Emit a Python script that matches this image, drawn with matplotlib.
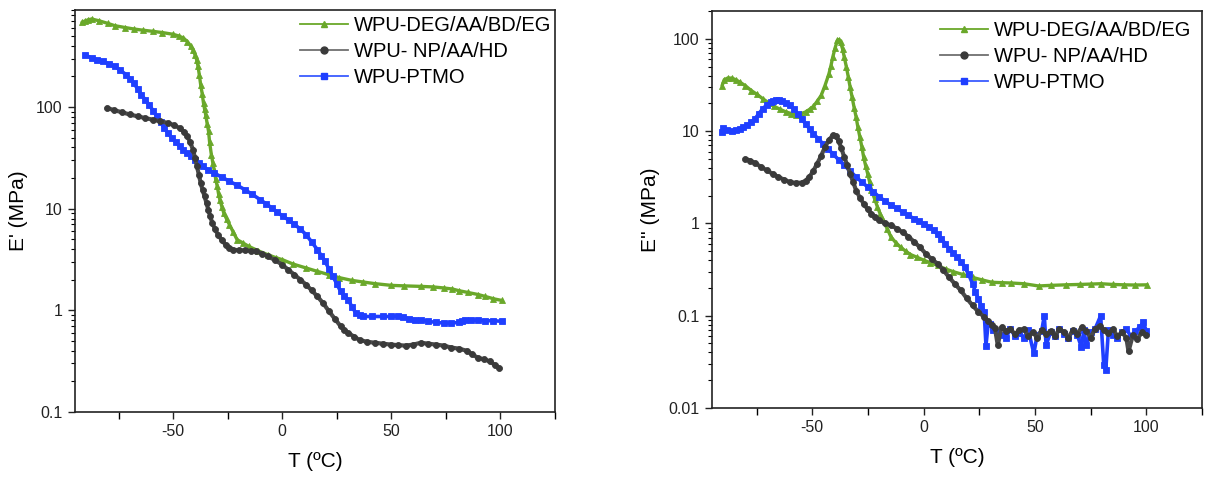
import matplotlib
matplotlib.use("Agg")
import matplotlib.pyplot as plt
from matplotlib.lines import Line2D
from matplotlib.ticker import FixedLocator, FuncFormatter, LogLocator, NullFormatter

plt.rcParams['font.family'] = ['Liberation Sans', 'DejaVu Sans']
plt.rcParams['axes.unicode_minus'] = False

labels = ["WPU-DEG/AA/BD/EG", "WPU- NP/AA/HD", "WPU-PTMO"]
colors = ["#6aa82a", "#3a3a3a", "#1f3fff"]
line_colors = ["#6aa82a", "#4a4a4a", "#1f3fff"]
legend_line_colors = ["#6aa82a", "#707070", "#3a5cff"]
markers = ["^", "o", "s"]

# ---- Storage modulus E' (left panel) ----
T_deg_E1 = [-91.8, -90.5, -89, -87.4, -84, -80, -76.8, -72, -68, -64, -59.3, -55, -50, -47.5, -45.3,
            -43.5, -41.8, -40.8, -40, -39.2, -38.6, -38, -37.4, -36.7, -36.1, -35.6, -35.1, -34.4, -33.8,
            -33.3, -32.5, -31.8, -31.2, -30.5, -29.8, -29.2, -28.6, -27.7, -26.8, -25.5, -24.2, -22.5,
            -20.7, -18, -15.4, -11, -6.7, -3, 0, 5, 10.9, 16, 21.4, 26, 31.9, 37, 42.5, 50, 56, 63.5,
            69, 74, 78, 81, 85, 89.8, 93, 96.8, 100.7]
E1_deg = [681, 700, 720, 734, 705, 665, 631, 605, 585, 570, 555, 540, 519, 500, 477,
          440, 395, 360, 327, 290, 251, 205, 166, 135, 109, 95, 84, 68, 58,
          45, 34, 28, 24, 19.5, 16.6, 14, 12.2, 10.5, 9.05, 7.9, 6.96, 5.9,
          4.95, 4.6, 4.26, 3.85, 3.53, 3.3, 3.15, 2.85, 2.61, 2.42, 2.24, 2.1, 1.97, 1.9, 1.83,
          1.76, 1.74, 1.72, 1.70, 1.66, 1.62, 1.56, 1.50, 1.43, 1.37, 1.30, 1.25]

T_np_E1 = [-80.4, -77, -73.3, -70, -66.3, -63, -59.3, -56, -52.3, -49.5, -47, -45, -43.5, -42.2, -40.9,
           -40, -39.1, -38.2, -37.4, -36.5, -35.6, -34.7, -33.9, -33, -32.1, -30.8, -29.5, -27.7, -26,
           -24.2, -22.5, -20, -17.2, -14.5, -11.9, -9.3, -6.7, -3.3, 0, 2.8, 5.6, 8.3, 10.9, 13.5, 16.1,
           18.8, 21.4, 24, 26.7, 28.5, 30.2, 33, 35.4, 39, 42.5, 46, 50, 53, 56.5, 60, 63.5, 67,
           70.5, 74, 77.5, 81, 84.6, 87, 89.8, 92.5, 95.1, 97.5, 99.5]
E1_np = [98, 93, 88.6, 84.5, 81, 78, 75, 72.5, 69.6, 66, 62, 57, 51.4, 45, 38,
         31.5, 26, 21.5, 17.9, 15.2, 13.2, 11.3, 9.76, 8.4, 7.23, 6.3, 5.55, 4.9, 4.42,
         4.15, 3.95, 3.9, 3.89, 3.85, 3.80, 3.62, 3.40, 3.12, 2.81, 2.5, 2.24, 2.0, 1.79, 1.57, 1.37,
         1.17, 0.98, 0.83, 0.70, 0.64, 0.60, 0.55, 0.51, 0.49, 0.48, 0.47, 0.46, 0.455, 0.45, 0.46, 0.48, 0.47,
         0.46, 0.45, 0.43, 0.42, 0.40, 0.37, 0.34, 0.33, 0.315, 0.29, 0.27]

T_pt_E1 = [-90.5, -87.4, -84.8, -82.1, -79.5, -76.8, -74.2, -71.6, -69.8, -68.1, -66.3, -64.6, -62.8, -61,
           -59.2, -57.5, -55.8, -54, -52.3, -50.5, -48.8, -47, -45.3, -43.5, -41.8, -40, -38.3, -36.5,
           -34, -31.2, -27.7, -24.2, -20.7, -17.2, -13.7, -10.2, -7.5, -4.9, -2.2, 0.4, 3, 5.6, 8.3,
           10.9, 13.5, 16.1, 17.9, 19.6, 21.4, 23.2, 25, 26.7, 28.5, 30.2, 31.9, 33.7, 35.5, 37.2,
           41, 46, 50, 53, 55.5, 58.2, 61, 63.5, 67, 70.5, 74, 77.5, 81, 82.5, 83.7, 86.5, 89.8,
           93, 96.8, 100.7]
E1_pt = [327, 303, 292, 281, 266, 251, 230, 208, 190, 172, 151, 132, 118, 105,
         92, 81, 71, 62, 55, 49.5, 45, 41, 38, 35.3, 32.6, 30.3, 28, 26,
         24, 22.4, 20.4, 18.6, 17, 15.4, 13.8, 12.3, 11.2, 10.2, 9.2, 8.4, 7.7, 7.0, 6.3,
         5.55, 4.7, 3.95, 3.45, 3.03, 2.55, 2.16, 1.82, 1.54, 1.38, 1.27, 1.09, 0.94, 0.89, 0.87,
         0.87, 0.87, 0.87, 0.88, 0.86, 0.82, 0.81, 0.80, 0.78, 0.76, 0.75, 0.75, 0.76, 0.78, 0.81, 0.80, 0.80,
         0.79, 0.79, 0.78]

# ---- Loss modulus E'' (right panel) ----
T_deg_E2 = [-90.5, -89.5, -88, -86.1, -84.3, -82.6, -80, -77.4, -74.8, -72.2, -69.6, -67, -64.4, -61.7,
            -59.5, -57.4, -55.2, -53, -51.2, -49.5, -47.8, -46, -44.3, -42.5, -41.6, -40.8, -39.7,
            -38.7, -38, -37.3, -36.4, -35.6, -34.7, -33.8, -33, -32.1, -31.2, -30.3, -29.5, -28.6,
            -27.7, -26.9, -26, -25.1, -24.2, -23.4, -22, -20.7, -19.4, -18.1, -16.4, -14.6, -12.5,
            -10.3, -8, -5.9, -3, 0, 3, 6.3, 10, 13.3, 17.5, 22, 26, 30.7, 35, 39.4, 45, 51.6, 57,
            63.8, 70, 75, 79.5, 85, 90, 95, 100.4]
E2_deg = [31, 36, 37.5, 37.5, 36, 34, 31, 27.5, 25, 22.4, 20.3, 18.5, 17.2, 16.1,
          15.5, 15.1, 15.4, 16.1, 17.2, 18.5, 21, 24.3, 31, 41.7, 51, 63, 80,
          96, 98, 92, 78, 63, 50, 38.5, 30, 23.3, 18, 14.2, 11, 8.6,
          6.7, 5.2, 4.2, 3.45, 2.8, 2.28, 1.85, 1.50, 1.25, 1.08, 0.88, 0.71, 0.62,
          0.55, 0.50, 0.46, 0.43, 0.40, 0.375, 0.35, 0.32, 0.30, 0.28, 0.26, 0.245, 0.23, 0.228, 0.226, 0.222, 0.21, 0.213,
          0.216, 0.218, 0.220, 0.222, 0.218, 0.216, 0.215, 0.216]

T_np_E2 = [-80, -77.8, -75.7, -73, -70.4, -67.8, -65.2, -62.6, -60, -57.4, -54.8, -53, -51.3, -49.5,
           -47.8, -46, -44.3, -42.5, -40.8, -39.5, -38.2, -36.9, -35.6, -34.3, -33, -31.6, -30.3,
           -28.6, -26.9, -25.1, -23.4, -21.6, -19.9, -17.2, -14.6, -12, -9.4, -6.8, -4.2, -1.6, 1,
           3.6, 6.3, 8.9, 11.5, 14.1, 16.7, 19.3, 22, 24.6, 27.2, 28.9, 30.7, 32, 33.3, 35, 37, 39, 41,
           43, 45, 47, 49, 51, 53, 55, 57, 59, 61, 63, 65, 67, 69, 71, 73, 75, 77, 79, 81, 83,
           85, 87, 89, 91, 92, 94, 96, 98, 100]
E2_np = [5.0, 4.8, 4.5, 4.1, 3.75, 3.45, 3.18, 2.98, 2.80, 2.75, 2.76, 2.9, 3.18, 3.7,
         4.43, 5.4, 6.7, 8.0, 9.0, 8.9, 7.9, 6.5, 5.2, 4.3, 3.45, 2.8, 2.27,
         1.9, 1.63, 1.42, 1.27, 1.16, 1.08, 1.0, 0.95, 0.88, 0.80, 0.72, 0.63, 0.55, 0.47,
         0.41, 0.366, 0.31, 0.26, 0.22, 0.188, 0.155, 0.129, 0.11, 0.097, 0.088, 0.080, 0.074, 0.048, 0.075, 0.068, 0.072, 0.063,
         0.070, 0.072, 0.060, 0.066, 0.058, 0.070, 0.063, 0.068, 0.060, 0.072, 0.066, 0.058, 0.070, 0.064, 0.075, 0.068, 0.058, 0.072, 0.078, 0.070, 0.065,
         0.072, 0.060, 0.066, 0.058, 0.041, 0.062, 0.056, 0.066, 0.062]

T_pt_E2 = [-90.5, -90, -88.3, -86.1, -84.3, -82.6, -80.9, -79.2, -77.4, -75.7, -74, -72.2, -70.4, -68.7,
           -67.4, -66.1, -64.8, -63.5, -61.7, -60, -58.2, -56.5, -54.8, -53, -51.2, -49.5, -47.4,
           -45.2, -43, -40.8, -38.2, -35.6, -33, -30.3, -27.7, -25.1, -22.5, -19.9, -17.2, -14.6,
           -12, -9.4, -6.8, -4.2, -2.1, 0, 2.3, 4.5, 6.3, 8, 9.8, 11.5, 13.3, 15, 16.7, 18.5, 20.2,
           22, 23.3, 24.6, 25.9, 27.2, 28, 29, 30, 31, 33, 35, 37, 39, 41, 43, 45, 47, 49.5, 51, 53,
           54.2, 55, 57, 59, 61, 63, 65, 67, 69, 70.8, 72, 73, 75, 77, 79.5, 80.9, 81.8, 83, 85, 87,
           89, 91, 93, 95, 97, 98.7, 100]
E2_pt = [9.75, 10.7, 10.3, 10.0, 10.2, 10.6, 11.0, 11.5, 12.4, 13.6, 15.4, 17.5, 19.2, 20.6,
         21.3, 21.8, 21.8, 21.3, 20.3, 19.0, 17.2, 15.4, 13.6, 12.0, 10.6, 9.35, 8.3,
         7.3, 6.4, 5.7, 4.9, 4.25, 3.7, 3.18, 2.8, 2.48, 2.2, 1.93, 1.74, 1.57,
         1.45, 1.33, 1.22, 1.12, 1.05, 0.99, 0.92, 0.84, 0.76, 0.68, 0.6, 0.53, 0.48, 0.43, 0.385, 0.336, 0.28,
         0.222, 0.18, 0.153, 0.128, 0.11, 0.0475, 0.082, 0.082, 0.070, 0.066, 0.062, 0.058, 0.072, 0.060, 0.065, 0.058, 0.070, 0.039, 0.062, 0.068,
         0.100, 0.048, 0.066, 0.060, 0.072, 0.064, 0.058, 0.068, 0.062, 0.046, 0.070, 0.048, 0.066, 0.072, 0.100, 0.029, 0.026, 0.070, 0.062, 0.058,
         0.066, 0.072, 0.060, 0.068, 0.075, 0.085, 0.068]

x_major = [-50, 0, 50, 100]
x_minor = [-75, -25, 25, 75, 125]

fig = plt.figure(figsize=(12.09, 4.79), dpi=100)
ax1 = fig.add_axes([75 / 1209, 1 - 412 / 479, 480 / 1209, 402 / 479])
ax2 = fig.add_axes([712 / 1209, 1 - 408 / 479, 490 / 1209, 397 / 479])


def fmt(v, pos):
    if v >= 1:
        return "%d" % round(v)
    return ("%.3f" % v).rstrip("0")


panels = [
    (ax1, [(T_deg_E1, E1_deg), (T_np_E1, E1_np), (T_pt_E1, E1_pt)], (0.1, 900), "E' (MPa)",
     [0.1, 1, 10, 100], (0.468, 0.985)),
    (ax2, [(T_deg_E2, E2_deg), (T_np_E2, E2_np), (T_pt_E2, E2_pt)], (0.01, 200), "E'' (MPa)",
     [0.01, 0.1, 1, 10, 100], (0.465, 0.975)),
]

zorders = [3, 5, 4]
line_widths = [2.4, 3.0, 2.6]
for ax, series, ylim, ylabel, yt, anchor in panels:
    handles = []
    for (t, v), lab, c, lc, llc, m, z, lw in zip(series, labels, colors, line_colors,
                                                 legend_line_colors, markers, zorders, line_widths):
        ax.plot(t, v, color=lc, lw=lw, marker=m, markersize=4.3,
                markerfacecolor=c, markeredgecolor=c, markeredgewidth=0.6,
                zorder=z, solid_capstyle='round', solid_joinstyle='round')
        handles.append(Line2D([], [], color=llc, lw=1.3, marker=m, markersize=5,
                              markerfacecolor=c, markeredgecolor=c, label=lab))
    ax.set_yscale('log')
    ax.set_xlim(-95, 125)
    ax.set_ylim(*ylim)
    ax.xaxis.set_major_locator(FixedLocator(x_major))
    ax.xaxis.set_minor_locator(FixedLocator(x_minor))
    ax.yaxis.set_major_locator(FixedLocator(yt))
    ax.yaxis.set_major_formatter(FuncFormatter(fmt))
    ax.yaxis.set_minor_locator(LogLocator(base=10, subs=range(2, 10), numticks=20))
    ax.yaxis.set_minor_formatter(NullFormatter())
    ax.tick_params(axis='both', which='major', direction='out', length=5, width=1.0,
                   labelsize=11.5, pad=4, colors='#222222', top=False, right=False)
    ax.tick_params(axis='x', which='minor', direction='out', length=5, width=1.0, top=False)
    ax.tick_params(axis='y', which='minor', direction='out', length=3, width=0.8, right=False)
    for s in ax.spines.values():
        s.set_linewidth(1.2)
        s.set_color('#222222')
    ax.set_xlabel("T (ºC)", fontsize=15, labelpad=9)
    ax.set_ylabel(ylabel, fontsize=15, labelpad=6)
    ax.legend(handles=handles, loc='upper left', bbox_to_anchor=anchor, frameon=False,
              fontsize=14.5, handlelength=2.4, handletextpad=0.3, labelspacing=0.35,
              borderpad=0, borderaxespad=0)

fig.savefig("out.png", dpi=100)
